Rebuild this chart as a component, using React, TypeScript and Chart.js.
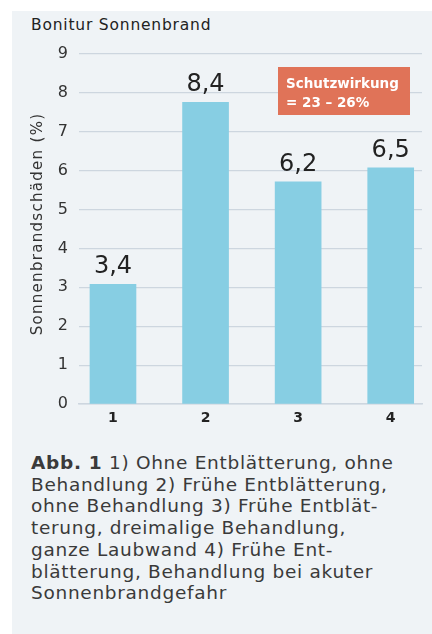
import React, { useEffect, useRef } from "react";
import { Chart, registerables } from "chart.js";

Chart.register(...registerables);

const categories = ["1", "2", "3", "4"];
// bar heights as drawn in the picture (axis units)
const barHeights = [3.08, 7.76, 5.71, 6.07];
// value labels printed above bars
const valueLabels = ["3,4", "8,4", "6,2", "6,5"];
const yTicks = [0, 1, 2, 3, 4, 5, 6, 7, 8, 9];
const chartTitle = "Bonitur Sonnenbrand";
const yAxisTitle = "Sonnenbrandschäden (%)";
const badgeLines = ["Schutzwirkung", "= 23 – 26%"];
const captionLines = [
  ["Abb. 1", " 1) Ohne Entblätterung, ohne"],
  ["", "Behandlung 2) Frühe Entblätterung,"],
  ["", "ohne Behandlung 3) Frühe Entblät-"],
  ["", "terung, dreimalige Behandlung,"],
  ["", "ganze Laubwand 4) Frühe Ent-"],
  ["", "blätterung, Behandlung bei akuter"],
  ["", "Sonnenbrandgefahr"],
];

const FONT = "'DejaVu Sans', sans-serif";

const overlayPlugin = {
  id: "overlay",
  afterDatasetsDraw(chart: any) {
    const ctx = chart.ctx;
    const meta = chart.getDatasetMeta(0);
    const area = chart.chartArea;
    ctx.save();
    ctx.fillStyle = "#222222";
    ctx.font = `24px ${FONT}`;
    ctx.textAlign = "center";
    ctx.textBaseline = "alphabetic";
    meta.data.forEach((bar: any, i: number) => {
      ctx.fillText(valueLabels[i], bar.x, bar.y - 11);
    });
    // y axis title
    ctx.save();
    ctx.translate(38, (area.top + area.bottom) / 2 - 5);
    ctx.rotate(-Math.PI / 2);
    ctx.fillStyle = "#333333";
    ctx.font = `15px ${FONT}`;
    (ctx as any).letterSpacing = "1.3px";
    ctx.textAlign = "center";
    ctx.textBaseline = "middle";
    ctx.fillText(yAxisTitle, 0, 0);
    ctx.restore();
    // badge
    ctx.fillStyle = "#e07358";
    ctx.fillRect(278, 67, 132, 48);
    ctx.fillStyle = "#ffffff";
    ctx.font = `bold 13.5px ${FONT}`;
    ctx.textAlign = "left";
    ctx.fillText(badgeLines[0], 286, 88);
    ctx.fillText(badgeLines[1], 286, 107);
    ctx.restore();
  },
};

function BarChart() {
  const ref = useRef<HTMLCanvasElement | null>(null);
  useEffect(() => {
    if (!ref.current) return;
    const chart = new Chart(ref.current, {
      type: "bar",
      data: {
        datasets: [
          {
            data: categories.map((c, i) => ({ x: i + 1, y: barHeights[i] })),
            backgroundColor: "#87cee3",
            barThickness: 46,
          },
        ],
      },
      options: {
        animation: false,
        responsive: false,
        devicePixelRatio: 1,
        layout: { padding: { left: 0, top: 54, right: 10, bottom: 0 } },
        plugins: { legend: { display: false }, tooltip: { enabled: false } },
        scales: {
          x: {
            type: "linear",
            offset: false,
            min: 0.633,
            max: 4.338,
            afterBuildTicks: (scale: any) => {
              scale.ticks = categories.map((c, i) => ({ value: i + 1 }));
            },
            afterFit: (scale: any) => {
              scale.height = 36;
            },
            grid: { display: false, drawTicks: false },
            border: { display: true, color: "#cdd6df", width: 1.5 },
            ticks: {
              padding: 6,
              color: "#222222",
              font: { family: FONT, size: 14, weight: "bold" },
              callback: (v: any) => categories[Math.round(v) - 1] ?? "",
            },
          },
          y: {
            min: 0,
            max: 9,
            afterBuildTicks: (scale: any) => {
              scale.ticks = yTicks.map((v) => ({ value: v }));
            },
            afterFit: (scale: any) => {
              scale.width = 79;
            },
            grid: { color: "#cdd6df", lineWidth: 1.2, drawTicks: false },
            border: { display: false },
            ticks: {
              padding: 11,
              color: "#333333",
              font: { family: FONT, size: 16 },
            },
            title: { display: false },
          },
        },
      },
      plugins: [overlayPlugin],
    });
    return () => chart.destroy();
  }, []);
  return (
    <canvas
      ref={ref}
      width={432}
      height={440}
      style={{ position: "absolute", left: 0, top: 0, width: 432, height: 440 }}
    />
  );
}

export default function App() {
  useEffect(() => {
    document.body.style.margin = "0";
  }, []);
  return (
    <div style={{ position: "relative", width: 432, height: 634, background: "#ffffff", overflow: "hidden" }}>
      <div
        style={{ position: "absolute", left: 12, top: 11, width: 420, height: 623, background: "#eff3f6" }}
      />
      <div
        style={{
          position: "absolute",
          left: 31,
          top: 16,
          fontFamily: FONT,
          fontSize: 15.5,
          letterSpacing: "0.8px",
          color: "#222222",
          whiteSpace: "nowrap",
        }}
      >
        {chartTitle}
      </div>
      <BarChart />
      <div
        style={{
          position: "absolute",
          left: 31,
          top: 452,
          fontFamily: FONT,
          fontSize: 18.5,
          letterSpacing: "0.7px",
          lineHeight: "21.7px",
          color: "#3a3a3a",
          whiteSpace: "nowrap",
        }}
      >
        {captionLines.map((l, i) => (
          <div key={i}>
            {l[0] ? <b>{l[0]}</b> : null}
            {l[1]}
          </div>
        ))}
      </div>
    </div>
  );
}
